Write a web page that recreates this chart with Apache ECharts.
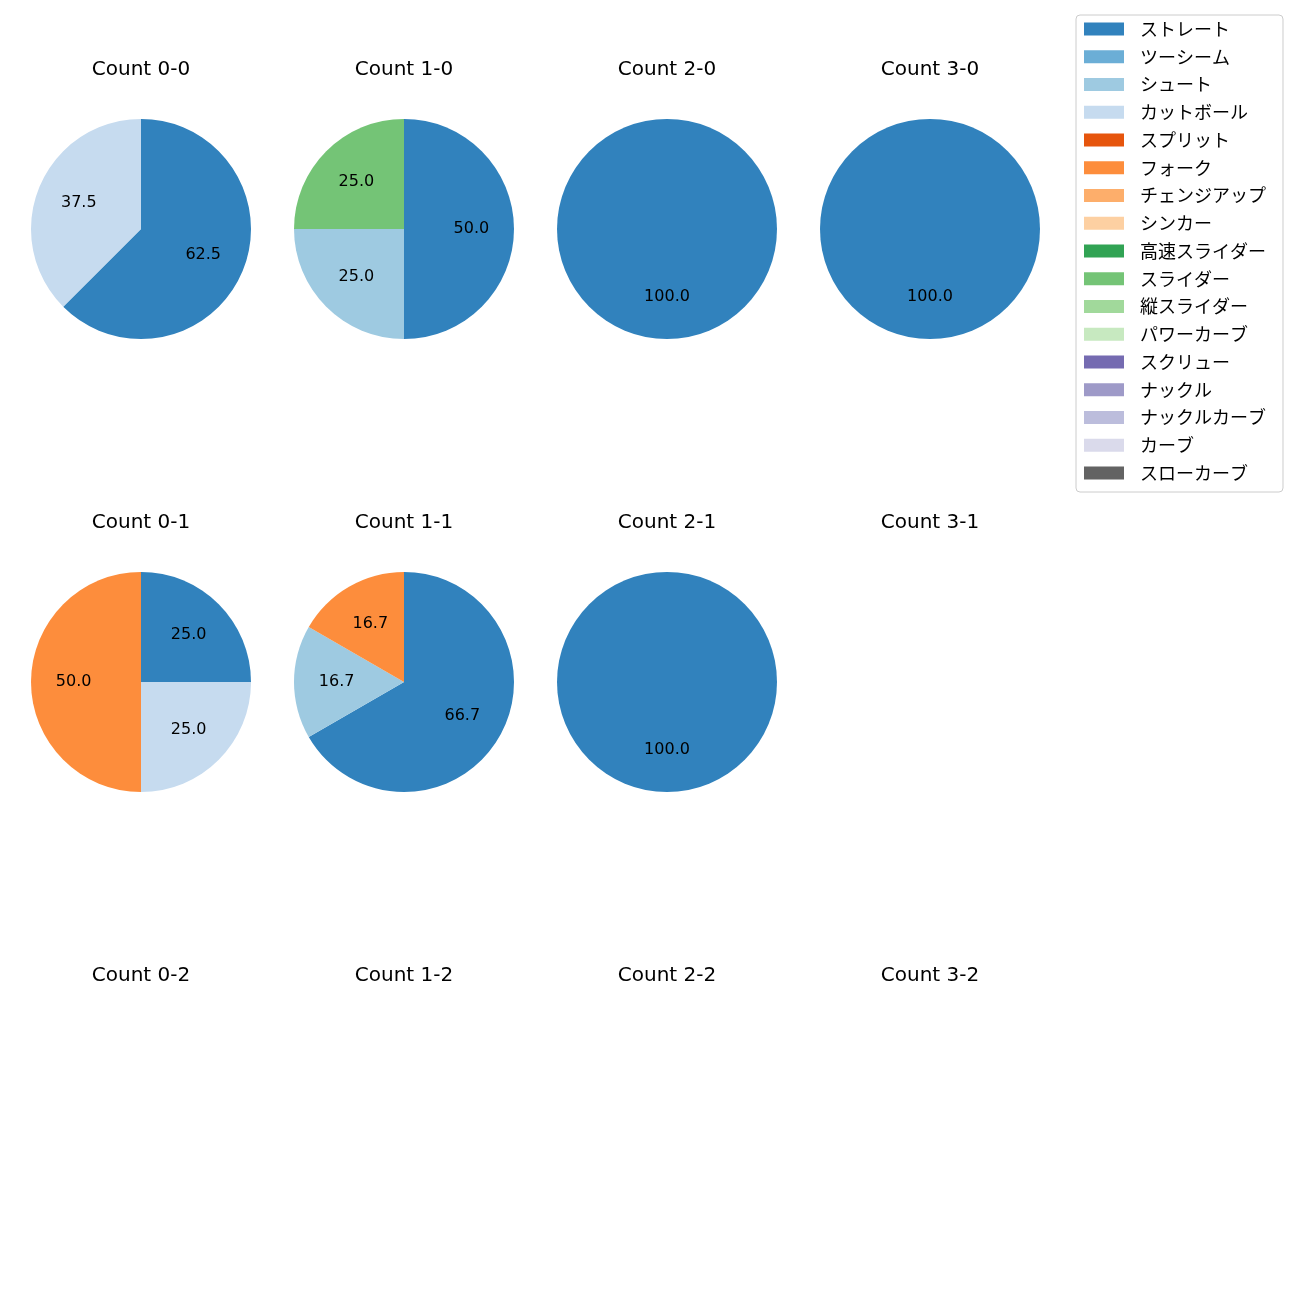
<!DOCTYPE html>
<html><head><meta charset="utf-8">
<script src="https://cdn.jsdelivr.net/npm/echarts@6/dist/echarts.min.js"></script>
<style>html,body{margin:0;padding:0;background:#fff}#c{width:1300px;height:1300px}</style>
</head><body><div id="c"></div>
<script>
const pitchTypes = ['ストレート','ツーシーム','シュート','カットボール','スプリット','フォーク','チェンジアップ','シンカー','高速スライダー','スライダー','縦スライダー','パワーカーブ','スクリュー','ナックル','ナックルカーブ','カーブ','スローカーブ'];
const pitchColors = ['#3182bd','#6baed6','#9ecae1','#c6dbef','#e6550d','#fd8d3c','#fdae6b','#fdd0a2','#31a354','#74c476','#a1d99b','#c7e9c0','#756bb1','#9e9ac8','#bcbddc','#dadaeb','#636363'];
const countLabels = ['0-0','1-0','2-0','3-0','0-1','1-1','2-1','3-1','0-2','1-2','2-2','3-2'];
// pitch counts per count situation (same order as countLabels)
const straight = [5,2,1,1,1,4,1,0,0,0,0,0];
const shoot    = [0,1,0,0,0,1,0,0,0,0,0,0];
const cutter   = [3,0,0,0,1,0,0,0,0,0,0,0];
const fork     = [0,0,0,0,2,1,0,0,0,0,0,0];
const slider   = [0,1,0,0,0,0,0,0,0,0,0,0];
const seriesByPitch = {'ストレート':straight,'シュート':shoot,'カットボール':cutter,'フォーク':fork,'スライダー':slider};

const colX = [141,404,667,930];
const rowY = [229,682,1135];
const R = 110;
const latin = '"DejaVu Sans", "Noto Sans CJK JP", sans-serif';
const jp = '"Noto Sans CJK JP", "DejaVu Sans", sans-serif';
const colorOf = {};
pitchTypes.forEach((p,i)=>colorOf[p]=pitchColors[i]);

const titles = [], series = [];
countLabels.forEach((c,i)=>{
  const col = i%4, row = Math.floor(i/4);
  const cx = colX[col], cy = rowY[row];
  titles.push({text:'Count '+c, left:cx, top:cy-169, textAlign:'center', padding:0,
    textStyle:{fontFamily:latin,fontSize:20,fontWeight:'normal',color:'#000'}});
  const data = [];
  pitchTypes.forEach(p=>{
    const arr = seriesByPitch[p];
    if (arr && arr[i]>0) data.push({name:p,value:arr[i],itemStyle:{color:colorOf[p]}});
  });
  if (!data.length) return;
  const total = data.reduce((s,d)=>s+d.value,0);
  series.push({type:'pie',center:[cx,cy],radius:[0,R],startAngle:90,clockwise:true,
    data:data,label:{show:false},labelLine:{show:false},silent:true,animation:false,
    itemStyle:{borderWidth:0}, emphasis:{disabled:true}});
  series.push({type:'pie',center:[cx,cy],radius:[0.17*R,R],startAngle:90,clockwise:true,
    data:data.map(d=>({name:d.name,value:d.value,itemStyle:{color:'rgba(0,0,0,0)'}})),
    label:{show:true,position:'inside',fontFamily:latin,fontSize:16,color:'#000',
      formatter:p=>(p.value/total*100).toFixed(1)},
    labelLine:{show:false},silent:true,animation:false,legendHoverLink:false,
    emphasis:{disabled:true}});
});
// legend entries series (invisible)
series.push({type:'pie',center:[-500,-500],radius:[0,1],silent:true,animation:false,
  label:{show:false},labelLine:{show:false},
  data:pitchTypes.map((p,i)=>({name:p,value:1,itemStyle:{color:pitchColors[i]}}))});

const chart = echarts.init(document.getElementById('c'),null,{renderer:'canvas'});
chart.setOption({
  animation:false,
  title:titles,
  legend:{orient:'vertical',left:1076,top:15,data:pitchTypes,icon:'rect',
    itemWidth:40,itemHeight:13,itemGap:9.75,selectedMode:false,
    padding:[5,17,10,8],
    borderColor:'#cccccc',borderWidth:1,borderRadius:4,
    textStyle:{fontFamily:jp,fontSize:18,color:'#000',lineHeight:18,padding:[0,0,0,11]}},
  series:series
});
</script></body></html>
